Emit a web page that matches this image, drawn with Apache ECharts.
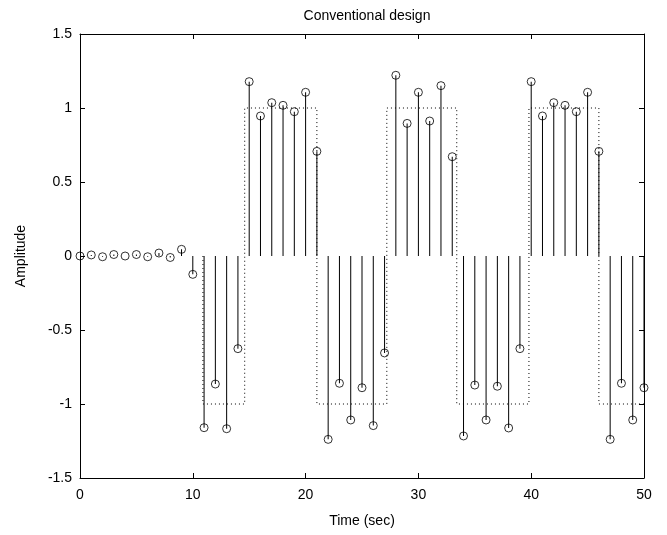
<!DOCTYPE html>
<html>
<head>
<meta charset="utf-8">
<script src="https://cdn.jsdelivr.net/npm/echarts@6/dist/echarts.min.js"></script>
<style>
  html, body { margin: 0; padding: 0; background: #fff; }
  #chart { width: 667px; height: 535px; }
</style>
</head>
<body>
<div id="chart"></div>
<script>
// Отсчёты выхода (стебли с кружками)
const sampleTime = [0, 1, 2, 3, 4, 5, 6, 7, 8, 9, 10, 11, 12, 13, 14, 15, 16, 17, 18, 19, 20,
  21, 22, 23, 24, 25, 26, 27, 28, 29, 30, 31, 32, 33, 34, 35, 36, 37, 38, 39, 40,
  41, 42, 43, 44, 45, 46, 47, 48, 49, 50];
const amplitude = [0.00, 0.007, -0.005, 0.01, 0.00, 0.01, -0.005, 0.02, -0.01, 0.045, -0.124,
  -1.16, -0.865, -1.167, -0.626,
  1.178, 0.946, 1.036, 1.018, 0.975, 1.106, 0.707,
  -1.239, -0.86, -1.108, -0.89, -1.146, -0.655,
  1.221, 0.896, 1.106, 0.912, 1.151, 0.671,
  -1.216, -0.872, -1.108, -0.88, -1.162, -0.626,
  1.178, 0.946, 1.036, 1.018, 0.975, 1.106, 0.707,
  -1.239, -0.86, -1.108, -0.89];

// Опорный прямоугольный сигнал (пунктир)
const refTime  = [10.9, 10.9, 14.6, 14.6, 21.0, 21.0, 27.2, 27.2, 33.4, 33.4, 39.8, 39.8, 46.0, 46.0, 50];
const refLevel = [0, -1, -1, 1, 1, -1, -1, 1, 1, -1, -1, 1, 1, -1, -1];

const xTicks = { min: 0, max: 50, interval: 10 };
const yTicks = { min: -1.5, max: 1.5, interval: 0.5 };

const FONT = 'Liberation Sans, Arial, sans-serif';
const txt = { color: '#000', fontSize: 14, fontFamily: FONT };

const stems = sampleTime.map((t, i) => [t, amplitude[i]]);
const ref = refTime.map((t, i) => [t, refLevel[i]]);

const axisCommon = {
  type: 'value',
  axisLine: { show: true, onZero: false, lineStyle: { color: '#000', width: 1 } },
  axisTick: { show: true, inside: true, length: 5, lineStyle: { color: '#000' } },
  splitLine: { show: false },
};

const chart = echarts.init(document.getElementById('chart'), null, { renderer: 'canvas' });
chart.setOption({
  animation: false,
  backgroundColor: '#fff',
  title: {
    text: 'Conventional design',
    left: 362, top: 4, textAlign: 'center',
    textStyle: { ...txt, fontWeight: 'normal' },
  },
  grid: { left: 80, right: 23, top: 34, bottom: 57 },
  xAxis: [
    {
      ...axisCommon, ...xTicks, position: 'bottom',
      axisLabel: { ...txt, margin: 10 },
      name: 'Time (sec)', nameLocation: 'middle', nameGap: 36, nameTextStyle: txt,
    },
    { ...axisCommon, ...xTicks, position: 'top', axisLabel: { show: false } },
  ],
  yAxis: [
    {
      ...axisCommon, ...yTicks, position: 'left',
      axisLabel: { ...txt, margin: 8 },
      name: 'Amplitude', nameLocation: 'middle', nameGap: 52, nameTextStyle: txt,
    },
    { ...axisCommon, ...yTicks, position: 'right', axisLabel: { show: false } },
  ],
  series: [
    {
      type: 'line',
      data: ref,
      showSymbol: false,
      lineStyle: { color: '#000', width: 1, type: [1, 3] },
      z: 1,
    },
    {
      type: 'bar',
      data: stems,
      barWidth: 1,
      itemStyle: { color: '#000' },
      z: 2,
    },
    {
      type: 'scatter',
      data: stems,
      symbol: 'circle',
      symbolSize: 8,
      itemStyle: { color: 'rgba(0,0,0,0)', borderColor: '#000', borderWidth: 1 },
      z: 3,
    },
  ],
});
</script>
</body>
</html>
